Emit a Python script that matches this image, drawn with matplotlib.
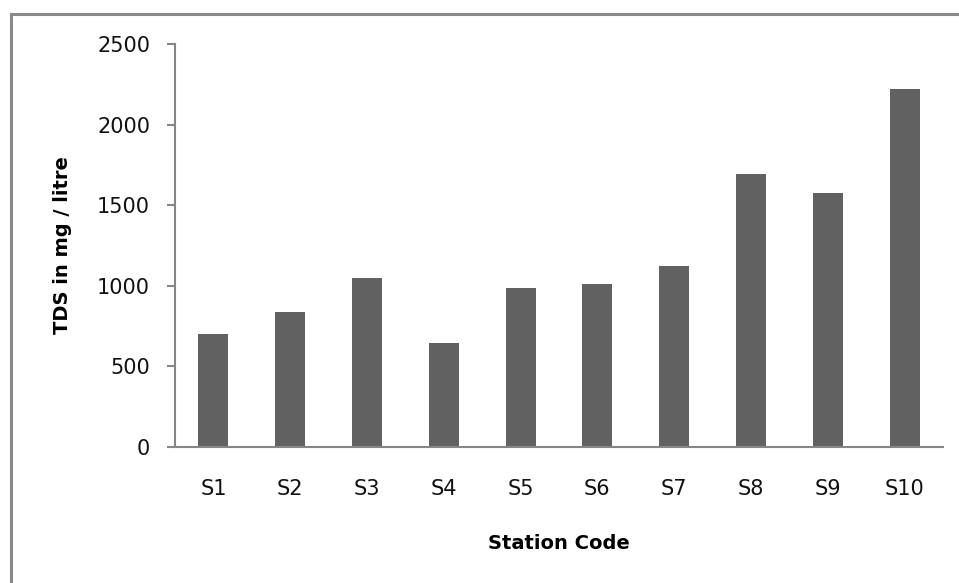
import numpy as np
import matplotlib.pyplot as plt
from matplotlib.lines import Line2D

stations = ["S1", "S2", "S3", "S4", "S5", "S6", "S7", "S8", "S9", "S10"]
tds = [698, 836, 1046, 643, 985, 1010, 1120, 1692, 1574, 2221]
yticks = [0, 500, 1000, 1500, 2000, 2500]

plt.rcParams['font.family'] = ['DejaVu Sans']
axis_grey = "#868686"

fig = plt.figure(figsize=(9.59, 5.83), dpi=100)
ax = fig.add_axes([0.1825, 0.2333, 0.9833 - 0.1825, 0.9245 - 0.2333])

x = np.arange(len(stations))
ax.bar(x, tds, width=0.39, color="#616161")

ax.set_xlim(-0.5, len(stations) - 0.5)
ax.set_ylim(0, 2500)
ax.set_yticks(yticks)
ax.set_xticks(x)
ax.set_xticklabels(stations)

for side in ["top", "right"]:
    ax.spines[side].set_visible(False)
for side in ["left", "bottom"]:
    ax.spines[side].set_color(axis_grey)
    ax.spines[side].set_linewidth(1.5)

ax.tick_params(axis="y", length=6, width=1.5, color=axis_grey, pad=12,
               labelsize=15, labelcolor="#111111")
ax.tick_params(axis="x", length=0, pad=23, labelsize=15, labelcolor="#111111")

ax.set_xlabel("Station Code", fontsize=14, fontweight="bold", labelpad=25)
ax.set_ylabel("TDS in mg / litre", fontsize=14, fontweight="bold", labelpad=18)

# partial outer frame (top and left edges)
fig.add_artist(Line2D([10.5 / 959, 1.0], [1 - 14 / 583, 1 - 14 / 583],
                      transform=fig.transFigure, color="#8a8a8a", linewidth=2.2))
fig.add_artist(Line2D([10.5 / 959, 10.5 / 959], [0.0, 1 - 14 / 583],
                      transform=fig.transFigure, color="#8a8a8a", linewidth=2.2))

fig.savefig("out.png", dpi=100)
